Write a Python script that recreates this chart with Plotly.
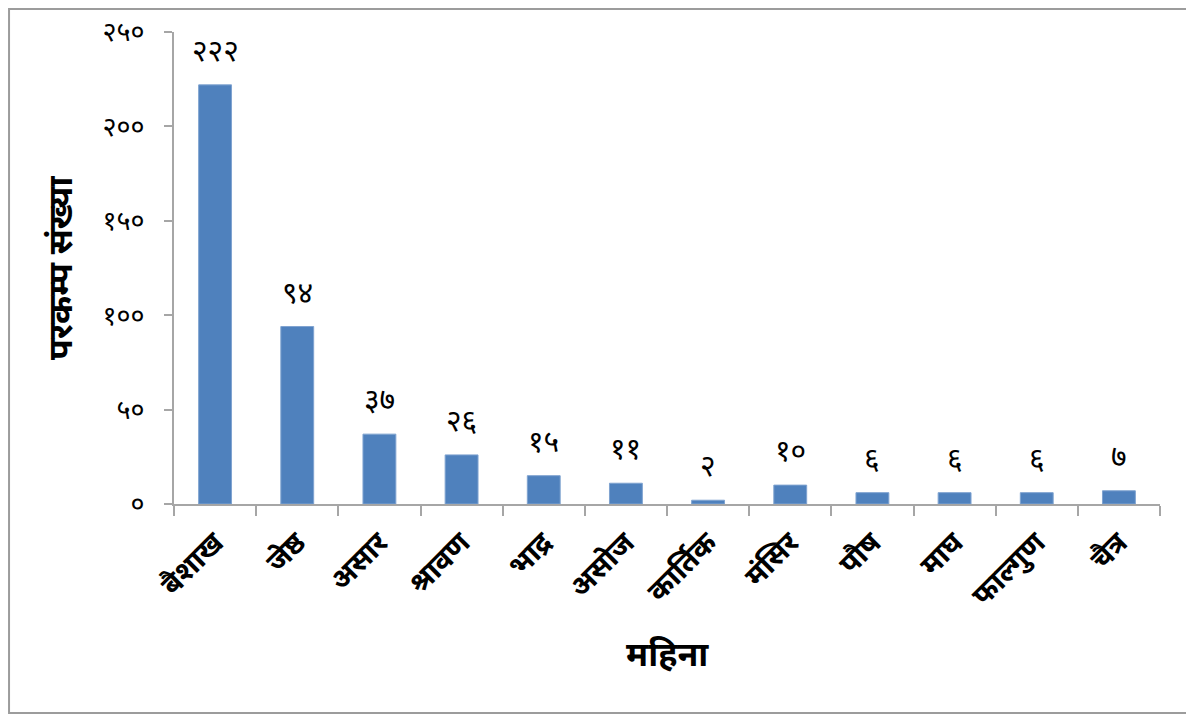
import plotly.graph_objects as go

# महिना अनुसार परकम्प संख्या
months = ["बैशाख", "जेष्ठ", "असार", "श्रावण", "भाद्र", "असोज",
          "कार्तिक", "मंसिर", "पौष", "माघ", "फाल्गुण", "चैत्र"]
counts = [222, 94, 37, 26, 15, 11, 2, 10, 6, 6, 6, 7]

y_ticks = [0, 50, 100, 150, 200, 250]

BAR = "#4F81BD"
AXIS = "#A6A6A6"
FONT = "Noto Sans Devanagari, Noto Sans, sans-serif"

DEV_DIGITS = str.maketrans("0123456789", "०१२३४५६७८९")


def dev(n):
    return str(n).translate(DEV_DIGITS)


fig = go.Figure(go.Bar(
    x=months, y=counts,
    marker_color=BAR,
    marker_line=dict(color="#7FA3D0", width=1),
    width=0.4,
    hoverinfo="x+y",
))

# data labels above bars
for m, v in zip(months, counts):
    fig.add_annotation(x=m, y=v, text=dev(v), showarrow=False,
                       yanchor="bottom", yshift=10,
                       font=dict(size=30, color="black", family=FONT))

# axis titles
fig.add_annotation(x=0.5, y=-0.377, xref="paper", yref="paper",
                   text="<b>महिना</b>", showarrow=False,
                   font=dict(size=34, color="black", family=FONT))
fig.add_annotation(x=-0.136, y=0.5, xref="paper", yref="paper",
                   text="<b>परकम्प संख्या</b>", showarrow=False, textangle=-90,
                   font=dict(size=34, color="black", family=FONT))

# outer chart border
fig.add_shape(type="rect", xref="paper", yref="paper",
              x0=-0.1673, x1=1.0294, y0=-0.4428, y1=1.0487,
              line=dict(color="#9C9C9C", width=2))

fig.update_xaxes(
    showline=True, linecolor=AXIS, linewidth=2,
    ticks="outside", tickson="boundaries", ticklen=10, tickcolor=AXIS, tickwidth=2,
    tickangle=-45, ticklabelstandoff=8,
    tickfont=dict(size=29, color="black", family=FONT, weight="bold"),
    showgrid=False, automargin=False,
)
fig.update_yaxes(
    range=[0, 250], tickvals=y_ticks, ticktext=[dev(t) for t in y_ticks],
    showline=True, linecolor=AXIS, linewidth=2,
    ticks="outside", ticklen=8, tickcolor=AXIS, tickwidth=2,
    ticklabelstandoff=14,
    tickfont=dict(size=27, color="black", family=FONT),
    showgrid=False, zeroline=False, automargin=False,
)

# page body adds 8px; figure sized so the plot area lands where the reference has it
fig.update_layout(
    width=1186, height=707,
    plot_bgcolor="white", paper_bgcolor="white",
    margin=dict(l=166, r=34, t=24, b=211),
    showlegend=False,
)

fig.write_html("out.html")
